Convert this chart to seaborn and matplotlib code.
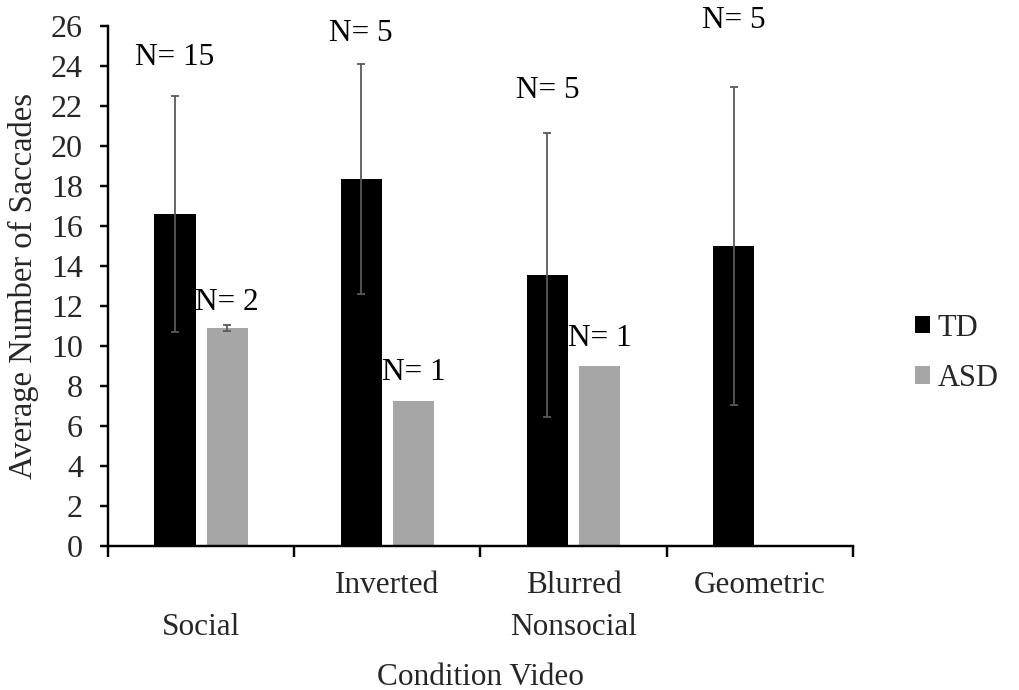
import numpy as np
import pandas as pd
import matplotlib
matplotlib.use("Agg")
import matplotlib.pyplot as plt
import seaborn as sns
from matplotlib.patches import Patch

# data
conditions = ["Social", "Inverted", "Blurred Nonsocial", "Geometric"]
tick_labels = ["\nSocial", "Inverted", "Blurred\nNonsocial", "Geometric"]
groups = ["TD", "ASD"]

td_mean = [16.6, 18.35, 13.55, 15.0]
td_sd = [5.9, 5.75, 7.1, 7.95]
td_n = [15, 5, 5, 5]

asd_mean = [10.9, 7.25, 9.0, np.nan]
asd_sd = [0.17, 0.0, 0.0, np.nan]
asd_n = [2, 1, 1, None]

# heights (data units) where the "N=" labels sit
td_label_y = [24.45, 25.65, 22.8, 26.3]
asd_label_y = [12.2, 8.7, 10.4, None]

colors = {"TD": "#000000", "ASD": "#a6a6a6"}

sns.set_theme(style="white")
plt.rcParams["font.family"] = ["Liberation Serif", "DejaVu Serif"]
plt.rcParams["figure.dpi"] = 100

rows = []
for g, means, sds, ns, ly in [("TD", td_mean, td_sd, td_n, td_label_y),
                              ("ASD", asd_mean, asd_sd, asd_n, asd_label_y)]:
    for c, m, s, n, y in zip(conditions, means, sds, ns, ly):
        if not np.isnan(m):
            rows.append(dict(condition=c, group=g, mean=m, sd=s, n=n, label_y=y))
df = pd.DataFrame(rows)

fig, ax = plt.subplots(figsize=(10.19, 6.9))
fig.subplots_adjust(left=0.106, right=0.837, bottom=0.2087, top=0.962)

sns.barplot(data=df, x="condition", y="mean", hue="group",
            order=conditions, hue_order=groups, palette=colors,
            width=0.56, gap=0.21, errorbar=None, legend=False,
            edgecolor="none", ax=ax)

# error bars and N labels at each bar's centre
for g, cont in zip(groups, ax.containers):
    sub = df[df.group == g].set_index("condition")
    for bar in cont:
        xc = bar.get_x() + bar.get_width() / 2
        cond = conditions[int(round(xc))]
        if cond not in sub.index:
            continue
        r = sub.loc[cond]
        if r["sd"] > 0:
            ax.errorbar(xc, r["mean"], yerr=r["sd"], fmt="none",
                        ecolor="#595959", elinewidth=1.3, capsize=3, capthick=1.3)
        ax.text(xc, r["label_y"], f"N= {int(r['n'])}", ha="center", va="center",
                fontsize=22.5, color="black")

ax.set_xlim(-0.5, 3.5)
ax.set_ylim(0, 26)
ax.set_yticks(np.arange(0, 27, 2))
ax.set_xticks(range(len(conditions)))
ax.set_xticklabels(tick_labels, linespacing=1.6)
ax.set_xticks(np.arange(-0.5, 3.6, 1), minor=True)
ax.tick_params(axis="x", which="major", length=0, pad=18, labelsize=22.5)
ax.tick_params(axis="x", which="minor", length=8, width=1.75, direction="out",
               color="black", bottom=True)
ax.tick_params(axis="y", length=6, width=1.75, direction="out", left=True,
               pad=12, labelsize=23, color="black")

for side in ["top", "right"]:
    ax.spines[side].set_visible(False)
for side in ["left", "bottom"]:
    ax.spines[side].set_color("black")
    ax.spines[side].set_linewidth(1.75)

ax.set_xlabel("Condition Video", fontsize=22.5, labelpad=15)
ax.set_ylabel("Average Number of Saccades", fontsize=23.5, labelpad=8.5)

handles = [Patch(facecolor=colors[g], edgecolor="none", label=g) for g in groups]
fig.legend(handles=handles, loc="center left", bbox_to_anchor=(0.898, 0.488),
           frameon=False, fontsize=22, handlelength=0.5, handleheight=0.5,
           handletextpad=0.25, labelspacing=0.7, borderpad=0, borderaxespad=0)

fig.savefig("out.png", dpi=100)
plt.close(fig)
